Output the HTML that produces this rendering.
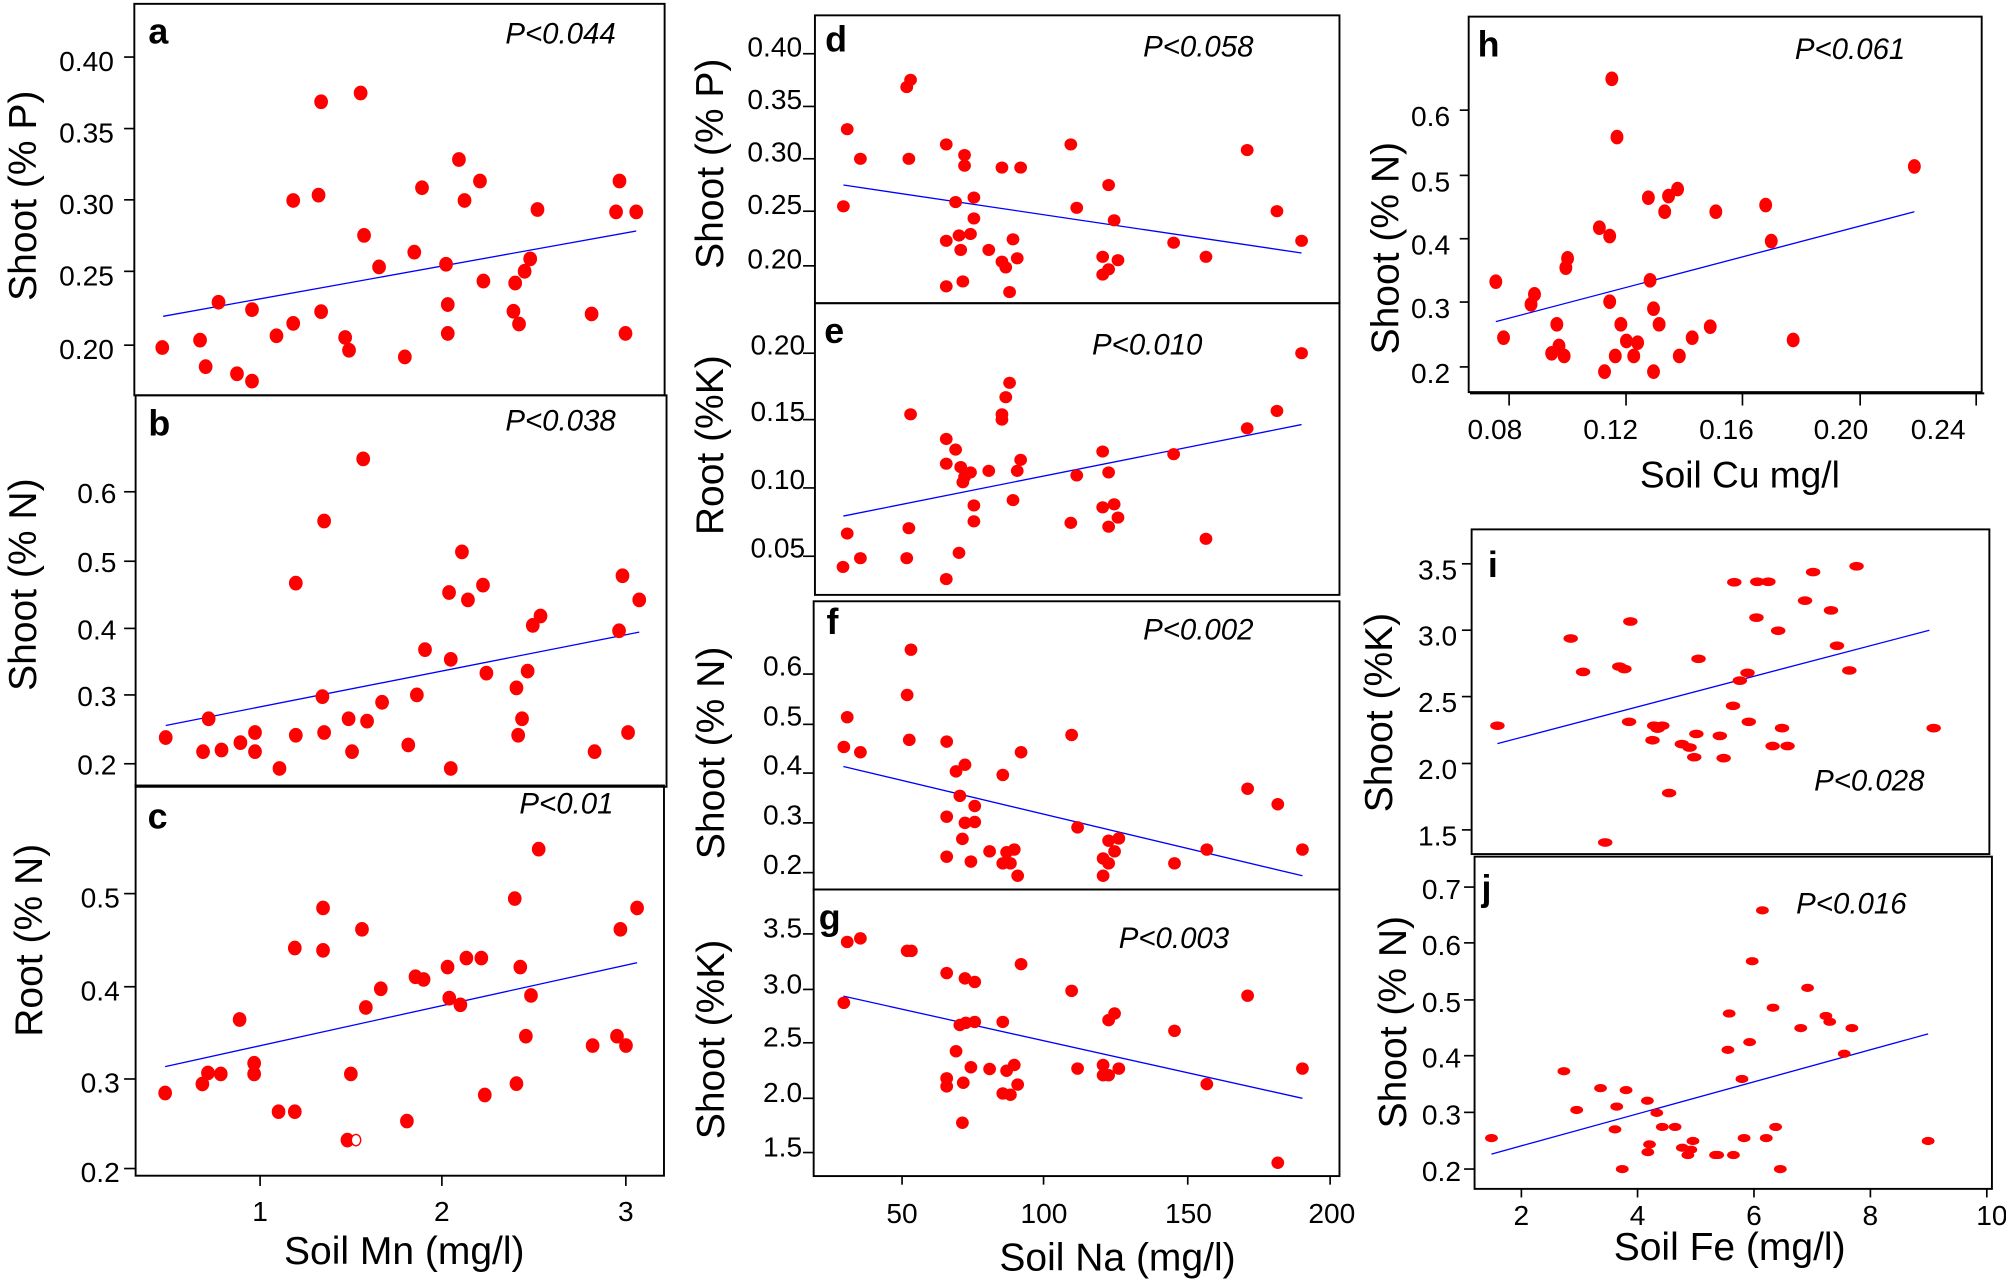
<!DOCTYPE html>
<html><head><meta charset="utf-8"><style>
html,body{margin:0;padding:0;background:#fff;}
svg{display:block;}
text{font-family:"Liberation Sans",Arial,sans-serif;fill:#000;}
.tl{font-size:22px;text-anchor:end;}
.tm{font-size:22px;text-anchor:middle;}
.yt{font-size:30.5px;text-anchor:middle;}
.xt{font-size:30.5px;text-anchor:middle;}
.lt{font-size:28px;font-weight:bold;}
.p{font-size:23px;font-style:italic;}
.fr{fill:none;stroke:#000;stroke-width:1.5;}
.tk line{stroke:#000;stroke-width:1.3;}
.rl{stroke:#0000ff;stroke-width:1.3;vector-effect:non-scaling-stroke;fill:none;}
</style></head><body>
<svg width="2006" height="1287" viewBox="0 0 1568 1006" preserveAspectRatio="none" xmlns="http://www.w3.org/2000/svg">
<rect x="0" y="0" width="1568" height="1006" fill="#fff"/>

<!-- ===== Frames ===== -->
<rect class="fr" x="105" y="3" width="414.5" height="306"/>
<rect class="fr" x="106" y="309" width="415" height="306"/>
<rect class="fr" x="106" y="614" width="413" height="305"/>
<rect class="fr" x="637" y="12" width="410" height="225"/>
<rect class="fr" x="637" y="237" width="410" height="228"/>
<rect class="fr" x="636" y="470" width="411" height="225.3"/>
<rect class="fr" x="636" y="695.3" width="411" height="224"/>
<rect class="fr" x="1148" y="13" width="401" height="293.5"/>
<line x1="1149" y1="307.5" x2="1551" y2="307.5" stroke="#000" stroke-width="1.5"/>
<rect class="fr" x="1150.3" y="413.8" width="404.7" height="253.8"/>
<rect class="fr" x="1152.6" y="669.6" width="404.4" height="259.7"/>

<!-- ===== Ticks ===== -->
<g class="tk">
<line x1="97" y1="44.6" x2="105" y2="44.6"/><line x1="97" y1="100.5" x2="105" y2="100.5"/><line x1="97" y1="156.2" x2="105" y2="156.2"/><line x1="97" y1="212.1" x2="105" y2="212.1"/><line x1="97" y1="269.8" x2="105" y2="269.8"/>
<line x1="97" y1="384.4" x2="106" y2="384.4"/><line x1="97" y1="438.7" x2="106" y2="438.7"/><line x1="97" y1="491.2" x2="106" y2="491.2"/><line x1="97" y1="543.2" x2="106" y2="543.2"/><line x1="97" y1="597" x2="106" y2="597"/>
<line x1="97" y1="698.5" x2="106" y2="698.5"/><line x1="97" y1="771.3" x2="106" y2="771.3"/><line x1="97" y1="843.4" x2="106" y2="843.4"/><line x1="97" y1="913.4" x2="106" y2="913.4"/>
<line x1="203.3" y1="919" x2="203.3" y2="927"/><line x1="345.4" y1="919" x2="345.4" y2="927"/><line x1="489.2" y1="919" x2="489.2" y2="927"/>

<line x1="627.7" y1="42" x2="637" y2="42"/><line x1="627.7" y1="83.2" x2="637" y2="83.2"/><line x1="627.7" y1="124.1" x2="637" y2="124.1"/><line x1="627.7" y1="165.1" x2="637" y2="165.1"/><line x1="627.7" y1="207.8" x2="637" y2="207.8"/>
<line x1="627.7" y1="276.1" x2="637" y2="276.1"/><line x1="627.7" y1="328" x2="637" y2="328"/><line x1="627.7" y1="381.4" x2="637" y2="381.4"/><line x1="627.7" y1="434.8" x2="637" y2="434.8"/>
<line x1="627.7" y1="526.9" x2="636" y2="526.9"/><line x1="627.7" y1="566.2" x2="636" y2="566.2"/><line x1="627.7" y1="604.3" x2="636" y2="604.3"/><line x1="627.7" y1="643.2" x2="636" y2="643.2"/><line x1="627.7" y1="682.1" x2="636" y2="682.1"/>
<line x1="627.7" y1="730" x2="636" y2="730"/><line x1="627.7" y1="773.4" x2="636" y2="773.4"/><line x1="627.7" y1="815.1" x2="636" y2="815.1"/><line x1="627.7" y1="858.5" x2="636" y2="858.5"/><line x1="627.7" y1="900.9" x2="636" y2="900.9"/>
<line x1="705.1" y1="919.3" x2="705.1" y2="926"/><line x1="815.7" y1="919.3" x2="815.7" y2="926"/><line x1="928.4" y1="919.3" x2="928.4" y2="926"/><line x1="1039.7" y1="919.3" x2="1039.7" y2="926"/>

<line x1="1141" y1="86.1" x2="1148" y2="86.1"/><line x1="1141" y1="137.1" x2="1148" y2="137.1"/><line x1="1141" y1="186.6" x2="1148" y2="186.6"/><line x1="1141" y1="236.1" x2="1148" y2="236.1"/><line x1="1141" y1="286.8" x2="1148" y2="286.8"/>
<line x1="1179.6" y1="307.5" x2="1179.6" y2="317"/><line x1="1271" y1="307.5" x2="1271" y2="317"/><line x1="1362" y1="307.5" x2="1362" y2="317"/><line x1="1454" y1="307.5" x2="1454" y2="317"/><line x1="1544.7" y1="307.5" x2="1544.7" y2="317"/>

<line x1="1142.7" y1="440.7" x2="1150.3" y2="440.7"/><line x1="1142.7" y1="492.6" x2="1150.3" y2="492.6"/><line x1="1142.7" y1="544.5" x2="1150.3" y2="544.5"/><line x1="1142.7" y1="596.8" x2="1150.3" y2="596.8"/><line x1="1142.7" y1="648.7" x2="1150.3" y2="648.7"/>
<line x1="1144.4" y1="693.4" x2="1152.6" y2="693.4"/><line x1="1144.4" y1="737" x2="1152.6" y2="737"/><line x1="1144.4" y1="781.6" x2="1152.6" y2="781.6"/><line x1="1144.4" y1="825.2" x2="1152.6" y2="825.2"/><line x1="1144.4" y1="869.5" x2="1152.6" y2="869.5"/><line x1="1144.4" y1="913.8" x2="1152.6" y2="913.8"/>
<line x1="1189.2" y1="929.3" x2="1189.2" y2="936"/><line x1="1280" y1="929.3" x2="1280" y2="936"/><line x1="1371" y1="929.3" x2="1371" y2="936"/><line x1="1462" y1="929.3" x2="1462" y2="936"/><line x1="1553" y1="929.3" x2="1553" y2="936"/>
</g>

<!-- ===== Tick labels ===== -->
<text class="tl" x="89" y="55.6">0.40</text><text class="tl" x="89" y="111.5">0.35</text><text class="tl" x="89" y="167.2">0.30</text><text class="tl" x="89" y="223.1">0.25</text><text class="tl" x="89" y="280.8">0.20</text>
<text class="tl" x="91" y="393">0.6</text><text class="tl" x="91" y="447.3">0.5</text><text class="tl" x="91" y="499.8">0.4</text><text class="tl" x="91" y="551.8">0.3</text><text class="tl" x="91" y="605.6">0.2</text>
<text class="tl" x="93.6" y="709.2">0.5</text><text class="tl" x="93.6" y="782">0.4</text><text class="tl" x="93.6" y="854.1">0.3</text><text class="tl" x="93.6" y="924.1">0.2</text>
<text class="tm" x="203.3" y="954.5">1</text><text class="tm" x="345.4" y="954.5">2</text><text class="tm" x="489.2" y="954.5">3</text>

<text class="tl" x="627" y="44">0.40</text><text class="tl" x="627" y="85.2">0.35</text><text class="tl" x="627" y="126.1">0.30</text><text class="tl" x="627" y="167.1">0.25</text><text class="tl" x="627" y="209.8">0.20</text>
<text class="tl" x="629.4" y="277">0.20</text><text class="tl" x="629.4" y="329">0.15</text><text class="tl" x="629.4" y="382.4">0.10</text><text class="tl" x="629.4" y="435.8">0.05</text>
<text class="tl" x="627" y="528">0.6</text><text class="tl" x="627" y="567.3">0.5</text><text class="tl" x="627" y="605.4">0.4</text><text class="tl" x="627" y="644.3">0.3</text><text class="tl" x="627" y="683.2">0.2</text>
<text class="tl" x="627" y="733">3.5</text><text class="tl" x="627" y="776.4">3.0</text><text class="tl" x="627" y="818.1">2.5</text><text class="tl" x="627" y="861.5">2.0</text><text class="tl" x="627" y="903.9">1.5</text>
<text class="tm" x="705.1" y="956">50</text><text class="tm" x="816" y="956">100</text><text class="tm" x="929" y="956">150</text><text class="tm" x="1041" y="956">200</text>

<text class="tl" x="1133.5" y="98.6">0.6</text><text class="tl" x="1133.5" y="149.6">0.5</text><text class="tl" x="1133.5" y="199.1">0.4</text><text class="tl" x="1133.5" y="248.6">0.3</text><text class="tl" x="1133.5" y="299.3">0.2</text>
<text class="tm" x="1168.5" y="343">0.08</text><text class="tm" x="1259" y="343">0.12</text><text class="tm" x="1349.5" y="343">0.16</text><text class="tm" x="1439" y="343">0.20</text><text class="tm" x="1515" y="343">0.24</text>

<text class="tl" x="1139" y="452.8">3.5</text><text class="tl" x="1139" y="504.7">3.0</text><text class="tl" x="1139" y="556.6">2.5</text><text class="tl" x="1139" y="608.9">2.0</text><text class="tl" x="1139" y="660.8">1.5</text>
<text class="tl" x="1142" y="702.8">0.7</text><text class="tl" x="1142" y="746.4">0.6</text><text class="tl" x="1142" y="791">0.5</text><text class="tl" x="1142" y="834.6">0.4</text><text class="tl" x="1142" y="878.9">0.3</text><text class="tl" x="1142" y="923.2">0.2</text>
<text class="tm" x="1189.2" y="957.5">2</text><text class="tm" x="1280" y="957.5">4</text><text class="tm" x="1371" y="957.5">6</text><text class="tm" x="1462" y="957.5">8</text><text class="tm" x="1557" y="957.5">10</text>

<!-- ===== Axis titles ===== -->
<text class="yt" transform="translate(28,153) rotate(-90)">Shoot (% P)</text>
<text class="yt" transform="translate(28,457) rotate(-90)">Shoot (% N)</text>
<text class="yt" transform="translate(33,735) rotate(-90)">Root (% N)</text>
<text class="yt" transform="translate(565,128) rotate(-90)">Shoot (% P)</text>
<text class="yt" transform="translate(565,348) rotate(-90)">Root (%K)</text>
<text class="yt" transform="translate(566,588.5) rotate(-90)">Shoot (% N)</text>
<text class="yt" transform="translate(566,812.5) rotate(-90)">Shoot (%K)</text>
<text class="yt" transform="translate(1093,194) rotate(-90)">Shoot (% N)</text>
<text class="yt" transform="translate(1088,557) rotate(-90)">Shoot (%K)</text>
<text class="yt" transform="translate(1099,799) rotate(-90)">Shoot (% N)</text>

<text class="xt" x="316" y="988">Soil Mn (mg/l)</text>
<text class="xt" x="873.5" y="993">Soil Na (mg/l)</text>
<text class="xt" x="1360" y="381" style="font-size:29px">Soil Cu mg/l</text>
<text class="xt" x="1352" y="985">Soil Fe (mg/l)</text>

<!-- ===== Panel letters & P values ===== -->
<text class="lt" x="116" y="34">a</text>
<text class="lt" x="116" y="340.3">b</text>
<text class="lt" x="115.4" y="647.6">c</text>
<text class="lt" x="645" y="40.2">d</text>
<text class="lt" x="644.3" y="268">e</text>
<text class="lt" x="646" y="495.7">f</text>
<text class="lt" x="640" y="726.6">g</text>
<text class="lt" x="1155" y="44">h</text>
<text class="lt" x="1163" y="451">i</text>
<text class="lt" x="1158" y="704">j</text>

<text class="p" x="395" y="34">P&lt;0.044</text>
<text class="p" x="395" y="336.4">P&lt;0.038</text>
<text class="p" x="406" y="636">P&lt;0.01</text>
<text class="p" x="893.5" y="44">P&lt;0.058</text>
<text class="p" x="853.6" y="277">P&lt;0.010</text>
<text class="p" x="893.5" y="499.8">P&lt;0.002</text>
<text class="p" x="874.5" y="741">P&lt;0.003</text>
<text class="p" x="1403" y="46">P&lt;0.061</text>
<text class="p" x="1418" y="618">P&lt;0.028</text>
<text class="p" x="1404" y="714">P&lt;0.016</text>

<!-- ===== Panel a ===== -->
<g transform="matrix(0.33557 0 0 0.26247 0 0)" fill="#ff0000">
<line class="rl" x1="380" y1="942" x2="1482" y2="688"/>
<ellipse cx="378" cy="1035" rx="16" ry="22"/><ellipse cx="466" cy="1013" rx="16" ry="22"/><ellipse cx="479" cy="1092" rx="16" ry="22"/><ellipse cx="509" cy="900" rx="16" ry="22"/><ellipse cx="552" cy="1113" rx="16" ry="22"/><ellipse cx="587" cy="1135" rx="16" ry="22"/><ellipse cx="587" cy="922" rx="16" ry="22"/><ellipse cx="644" cy="1000" rx="16" ry="22"/><ellipse cx="683" cy="963" rx="16" ry="22"/><ellipse cx="683" cy="597" rx="16" ry="22"/><ellipse cx="742" cy="581" rx="16" ry="22"/><ellipse cx="748" cy="303" rx="16" ry="22"/><ellipse cx="748" cy="928" rx="16" ry="22"/><ellipse cx="804" cy="1005" rx="16" ry="22"/><ellipse cx="813" cy="1043" rx="16" ry="22"/><ellipse cx="840" cy="277" rx="16" ry="22"/><ellipse cx="848" cy="701" rx="16" ry="22"/><ellipse cx="883" cy="795" rx="16" ry="22"/><ellipse cx="943" cy="1063" rx="16" ry="22"/><ellipse cx="965" cy="751" rx="16" ry="22"/><ellipse cx="983" cy="559" rx="16" ry="22"/><ellipse cx="1039" cy="787" rx="16" ry="22"/><ellipse cx="1043" cy="907" rx="16" ry="22"/><ellipse cx="1043" cy="993" rx="16" ry="22"/><ellipse cx="1069" cy="475" rx="16" ry="22"/><ellipse cx="1082" cy="597" rx="16" ry="22"/><ellipse cx="1118" cy="539" rx="16" ry="22"/><ellipse cx="1126" cy="837" rx="16" ry="22"/><ellipse cx="1196" cy="927" rx="16" ry="22"/><ellipse cx="1200" cy="843" rx="16" ry="22"/><ellipse cx="1209" cy="965" rx="16" ry="22"/><ellipse cx="1222" cy="808" rx="16" ry="22"/><ellipse cx="1235" cy="771" rx="16" ry="22"/><ellipse cx="1252" cy="624" rx="16" ry="22"/><ellipse cx="1378" cy="935" rx="16" ry="22"/><ellipse cx="1435" cy="631" rx="16" ry="22"/><ellipse cx="1443" cy="539" rx="16" ry="22"/><ellipse cx="1457" cy="993" rx="16" ry="22"/><ellipse cx="1482" cy="631" rx="16" ry="22"/>
</g>

<!-- ===== Panel b ===== -->
<g transform="matrix(0.33557 0 0 0.26247 0 297)" fill="#ff0000">
<line class="rl" x1="386" y1="1029" x2="1489" y2="751"/>
<ellipse cx="386" cy="1065" rx="16" ry="22"/><ellipse cx="473" cy="1107" rx="16" ry="22"/><ellipse cx="486" cy="1009" rx="16" ry="22"/><ellipse cx="516" cy="1102" rx="16" ry="22"/><ellipse cx="560" cy="1080" rx="16" ry="22"/><ellipse cx="594" cy="1050" rx="16" ry="22"/><ellipse cx="594" cy="1107" rx="16" ry="22"/><ellipse cx="651" cy="1157" rx="16" ry="22"/><ellipse cx="689" cy="1058" rx="16" ry="22"/><ellipse cx="689" cy="605" rx="16" ry="22"/><ellipse cx="751" cy="943" rx="16" ry="22"/><ellipse cx="755" cy="420" rx="16" ry="22"/><ellipse cx="755" cy="1050" rx="16" ry="22"/><ellipse cx="812" cy="1009" rx="16" ry="22"/><ellipse cx="820" cy="1107" rx="16" ry="22"/><ellipse cx="846" cy="235" rx="16" ry="22"/><ellipse cx="855" cy="1016" rx="16" ry="22"/><ellipse cx="890" cy="960" rx="16" ry="22"/><ellipse cx="951" cy="1087" rx="16" ry="22"/><ellipse cx="971" cy="938" rx="16" ry="22"/><ellipse cx="990" cy="803" rx="16" ry="22"/><ellipse cx="1046" cy="633" rx="16" ry="22"/><ellipse cx="1050" cy="832" rx="16" ry="22"/><ellipse cx="1050" cy="1157" rx="16" ry="22"/><ellipse cx="1076" cy="512" rx="16" ry="22"/><ellipse cx="1090" cy="655" rx="16" ry="22"/><ellipse cx="1125" cy="611" rx="16" ry="22"/><ellipse cx="1133" cy="873" rx="16" ry="22"/><ellipse cx="1203" cy="917" rx="16" ry="22"/><ellipse cx="1207" cy="1058" rx="16" ry="22"/><ellipse cx="1216" cy="1009" rx="16" ry="22"/><ellipse cx="1229" cy="867" rx="16" ry="22"/><ellipse cx="1241" cy="731" rx="16" ry="22"/><ellipse cx="1259" cy="703" rx="16" ry="22"/><ellipse cx="1385" cy="1107" rx="16" ry="22"/><ellipse cx="1442" cy="747" rx="16" ry="22"/><ellipse cx="1450" cy="583" rx="16" ry="22"/><ellipse cx="1463" cy="1050" rx="16" ry="22"/><ellipse cx="1489" cy="655" rx="16" ry="22"/>
</g>

<!-- ===== Panel c ===== -->
<g transform="matrix(0.33445 0 0 0.2611 0 609.7)" fill="#ff0000">
<line class="rl" x1="386" y1="858" x2="1489" y2="547"/>
<ellipse cx="386" cy="937" rx="16" ry="22"/><ellipse cx="473" cy="910" rx="16" ry="22"/><ellipse cx="486" cy="877" rx="16" ry="22"/><ellipse cx="516" cy="880" rx="16" ry="22"/><ellipse cx="560" cy="717" rx="16" ry="22"/><ellipse cx="594" cy="848" rx="16" ry="22"/><ellipse cx="594" cy="880" rx="16" ry="22"/><ellipse cx="651" cy="993" rx="16" ry="22"/><ellipse cx="689" cy="993" rx="16" ry="22"/><ellipse cx="689" cy="503" rx="16" ry="22"/><ellipse cx="755" cy="383" rx="16" ry="22"/><ellipse cx="755" cy="510" rx="16" ry="22"/><ellipse cx="812" cy="1078" rx="16" ry="22"/><ellipse cx="820" cy="880" rx="16" ry="22"/><ellipse cx="846" cy="447" rx="16" ry="22"/><ellipse cx="855" cy="681" rx="16" ry="22"/><ellipse cx="890" cy="625" rx="16" ry="22"/><ellipse cx="951" cy="1021" rx="16" ry="22"/><ellipse cx="971" cy="589" rx="16" ry="22"/><ellipse cx="990" cy="597" rx="16" ry="22"/><ellipse cx="1046" cy="560" rx="16" ry="22"/><ellipse cx="1050" cy="653" rx="16" ry="22"/><ellipse cx="1076" cy="673" rx="16" ry="22"/><ellipse cx="1090" cy="533" rx="16" ry="22"/><ellipse cx="1125" cy="533" rx="16" ry="22"/><ellipse cx="1133" cy="943" rx="16" ry="22"/><ellipse cx="1203" cy="355" rx="16" ry="22"/><ellipse cx="1207" cy="909" rx="16" ry="22"/><ellipse cx="1216" cy="560" rx="16" ry="22"/><ellipse cx="1229" cy="767" rx="16" ry="22"/><ellipse cx="1241" cy="645" rx="16" ry="22"/><ellipse cx="1259" cy="207" rx="16" ry="22"/><ellipse cx="1385" cy="795" rx="16" ry="22"/><ellipse cx="1442" cy="767" rx="16" ry="22"/><ellipse cx="1450" cy="447" rx="16" ry="22"/><ellipse cx="1463" cy="795" rx="16" ry="22"/><ellipse cx="1489" cy="383" rx="16" ry="22"/>
<ellipse cx="832" cy="1078" rx="11" ry="17" fill="#fff" stroke="#ff0000" stroke-width="1.4" vector-effect="non-scaling-stroke"/>
</g>

<!-- ===== Panels d & e ===== -->
<g transform="matrix(0.33223 0 0 0.29674 533 1)" fill="#ff0000">
<line class="rl" x1="380" y1="484" x2="1458" y2="663"/>
<ellipse cx="380" cy="540" rx="15" ry="16"/><ellipse cx="389" cy="337" rx="15" ry="16"/><ellipse cx="420" cy="415" rx="15" ry="16"/><ellipse cx="529" cy="226" rx="15" ry="16"/><ellipse cx="538" cy="207" rx="15" ry="16"/><ellipse cx="534" cy="415" rx="15" ry="16"/><ellipse cx="622" cy="377" rx="15" ry="16"/><ellipse cx="622" cy="631" rx="15" ry="16"/><ellipse cx="622" cy="751" rx="15" ry="16"/><ellipse cx="644" cy="529" rx="15" ry="16"/><ellipse cx="652" cy="617" rx="15" ry="16"/><ellipse cx="656" cy="655" rx="15" ry="16"/><ellipse cx="661" cy="738" rx="15" ry="16"/><ellipse cx="665" cy="405" rx="15" ry="16"/><ellipse cx="665" cy="433" rx="15" ry="16"/><ellipse cx="679" cy="613" rx="15" ry="16"/><ellipse cx="687" cy="517" rx="15" ry="16"/><ellipse cx="687" cy="572" rx="15" ry="16"/><ellipse cx="722" cy="655" rx="15" ry="16"/><ellipse cx="753" cy="438" rx="15" ry="16"/><ellipse cx="753" cy="686" rx="15" ry="16"/><ellipse cx="762" cy="701" rx="15" ry="16"/><ellipse cx="771" cy="766" rx="15" ry="16"/><ellipse cx="779" cy="627" rx="15" ry="16"/><ellipse cx="789" cy="677" rx="15" ry="16"/><ellipse cx="797" cy="438" rx="15" ry="16"/><ellipse cx="915" cy="377" rx="15" ry="16"/><ellipse cx="929" cy="544" rx="15" ry="16"/><ellipse cx="990" cy="673" rx="15" ry="16"/><ellipse cx="990" cy="720" rx="15" ry="16"/><ellipse cx="1004" cy="484" rx="15" ry="16"/><ellipse cx="1004" cy="706" rx="15" ry="16"/><ellipse cx="1017" cy="577" rx="15" ry="16"/><ellipse cx="1026" cy="682" rx="15" ry="16"/><ellipse cx="1157" cy="636" rx="15" ry="16"/><ellipse cx="1233" cy="673" rx="15" ry="16"/><ellipse cx="1330" cy="392" rx="15" ry="16"/><ellipse cx="1400" cy="553" rx="15" ry="16"/><ellipse cx="1458" cy="631" rx="15" ry="16"/>
<line class="rl" x1="380" y1="1356" x2="1458" y2="1115"/>
<ellipse cx="379" cy="1490" rx="15" ry="16"/><ellipse cx="389" cy="1402" rx="15" ry="16"/><ellipse cx="420" cy="1467" rx="15" ry="16"/><ellipse cx="529" cy="1467" rx="15" ry="16"/><ellipse cx="534" cy="1388" rx="15" ry="16"/><ellipse cx="538" cy="1088" rx="15" ry="16"/><ellipse cx="622" cy="1153" rx="15" ry="16"/><ellipse cx="622" cy="1218" rx="15" ry="16"/><ellipse cx="622" cy="1522" rx="15" ry="16"/><ellipse cx="644" cy="1181" rx="15" ry="16"/><ellipse cx="652" cy="1453" rx="15" ry="16"/><ellipse cx="656" cy="1227" rx="15" ry="16"/><ellipse cx="661" cy="1267" rx="15" ry="16"/><ellipse cx="665" cy="1253" rx="15" ry="16"/><ellipse cx="679" cy="1241" rx="15" ry="16"/><ellipse cx="687" cy="1328" rx="15" ry="16"/><ellipse cx="687" cy="1370" rx="15" ry="16"/><ellipse cx="722" cy="1237" rx="15" ry="16"/><ellipse cx="753" cy="1088" rx="15" ry="16"/><ellipse cx="753" cy="1102" rx="15" ry="16"/><ellipse cx="762" cy="1043" rx="15" ry="16"/><ellipse cx="771" cy="1005" rx="15" ry="16"/><ellipse cx="779" cy="1314" rx="15" ry="16"/><ellipse cx="789" cy="1237" rx="15" ry="16"/><ellipse cx="797" cy="1208" rx="15" ry="16"/><ellipse cx="915" cy="1374" rx="15" ry="16"/><ellipse cx="929" cy="1249" rx="15" ry="16"/><ellipse cx="990" cy="1186" rx="15" ry="16"/><ellipse cx="990" cy="1333" rx="15" ry="16"/><ellipse cx="1004" cy="1241" rx="15" ry="16"/><ellipse cx="1004" cy="1384" rx="15" ry="16"/><ellipse cx="1017" cy="1325" rx="15" ry="16"/><ellipse cx="1026" cy="1360" rx="15" ry="16"/><ellipse cx="1157" cy="1193" rx="15" ry="16"/><ellipse cx="1233" cy="1416" rx="15" ry="16"/><ellipse cx="1330" cy="1125" rx="15" ry="16"/><ellipse cx="1400" cy="1079" rx="15" ry="16"/><ellipse cx="1458" cy="927" rx="15" ry="16"/>
</g>

<!-- ===== Panels f & g ===== -->
<g transform="matrix(0.33223 0 0 0.34722 533 454)" fill="#ff0000">
<line class="rl" x1="380" y1="418" x2="1460" y2="664"/>
<ellipse cx="381" cy="374" rx="15" ry="14"/><ellipse cx="389" cy="307" rx="15" ry="14"/><ellipse cx="420" cy="386" rx="15" ry="14"/><ellipse cx="530" cy="257" rx="15" ry="14"/><ellipse cx="535" cy="358" rx="15" ry="14"/><ellipse cx="539" cy="155" rx="15" ry="14"/><ellipse cx="623" cy="362" rx="15" ry="14"/><ellipse cx="623" cy="531" rx="15" ry="14"/><ellipse cx="623" cy="621" rx="15" ry="14"/><ellipse cx="645" cy="429" rx="15" ry="14"/><ellipse cx="654" cy="484" rx="15" ry="14"/><ellipse cx="660" cy="581" rx="15" ry="14"/><ellipse cx="666" cy="414" rx="15" ry="14"/><ellipse cx="666" cy="545" rx="15" ry="14"/><ellipse cx="680" cy="632" rx="15" ry="14"/><ellipse cx="689" cy="507" rx="15" ry="14"/><ellipse cx="689" cy="543" rx="15" ry="14"/><ellipse cx="724" cy="609" rx="15" ry="14"/><ellipse cx="755" cy="437" rx="15" ry="14"/><ellipse cx="755" cy="636" rx="15" ry="14"/><ellipse cx="764" cy="611" rx="15" ry="14"/><ellipse cx="773" cy="636" rx="15" ry="14"/><ellipse cx="782" cy="605" rx="15" ry="14"/><ellipse cx="790" cy="664" rx="15" ry="14"/><ellipse cx="798" cy="386" rx="15" ry="14"/><ellipse cx="917" cy="347" rx="15" ry="14"/><ellipse cx="931" cy="555" rx="15" ry="14"/><ellipse cx="991" cy="625" rx="15" ry="14"/><ellipse cx="991" cy="664" rx="15" ry="14"/><ellipse cx="1004" cy="585" rx="15" ry="14"/><ellipse cx="1004" cy="636" rx="15" ry="14"/><ellipse cx="1018" cy="609" rx="15" ry="14"/><ellipse cx="1028" cy="580" rx="15" ry="14"/><ellipse cx="1159" cy="636" rx="15" ry="14"/><ellipse cx="1235" cy="605" rx="15" ry="14"/><ellipse cx="1331" cy="468" rx="15" ry="14"/><ellipse cx="1402" cy="503" rx="15" ry="14"/><ellipse cx="1460" cy="605" rx="15" ry="14"/>
<line class="rl" x1="380" y1="935" x2="1460" y2="1165"/>
<ellipse cx="381" cy="950" rx="15" ry="14"/><ellipse cx="389" cy="813" rx="15" ry="14"/><ellipse cx="420" cy="805" rx="15" ry="14"/><ellipse cx="530" cy="833" rx="15" ry="14"/><ellipse cx="540" cy="833" rx="15" ry="14"/><ellipse cx="623" cy="883" rx="15" ry="14"/><ellipse cx="623" cy="1120" rx="15" ry="14"/><ellipse cx="623" cy="1138" rx="15" ry="14"/><ellipse cx="645" cy="1059" rx="15" ry="14"/><ellipse cx="654" cy="1000" rx="15" ry="14"/><ellipse cx="660" cy="1220" rx="15" ry="14"/><ellipse cx="662" cy="1130" rx="15" ry="14"/><ellipse cx="666" cy="895" rx="15" ry="14"/><ellipse cx="668" cy="995" rx="15" ry="14"/><ellipse cx="680" cy="1095" rx="15" ry="14"/><ellipse cx="689" cy="903" rx="15" ry="14"/><ellipse cx="689" cy="993" rx="15" ry="14"/><ellipse cx="724" cy="1099" rx="15" ry="14"/><ellipse cx="755" cy="993" rx="15" ry="14"/><ellipse cx="755" cy="1154" rx="15" ry="14"/><ellipse cx="764" cy="1103" rx="15" ry="14"/><ellipse cx="773" cy="1157" rx="15" ry="14"/><ellipse cx="782" cy="1090" rx="15" ry="14"/><ellipse cx="790" cy="1134" rx="15" ry="14"/><ellipse cx="798" cy="863" rx="15" ry="14"/><ellipse cx="917" cy="923" rx="15" ry="14"/><ellipse cx="931" cy="1098" rx="15" ry="14"/><ellipse cx="991" cy="1090" rx="15" ry="14"/><ellipse cx="991" cy="1113" rx="15" ry="14"/><ellipse cx="1004" cy="989" rx="15" ry="14"/><ellipse cx="1004" cy="1113" rx="15" ry="14"/><ellipse cx="1018" cy="974" rx="15" ry="14"/><ellipse cx="1028" cy="1098" rx="15" ry="14"/><ellipse cx="1159" cy="1013" rx="15" ry="14"/><ellipse cx="1235" cy="1133" rx="15" ry="14"/><ellipse cx="1331" cy="934" rx="15" ry="14"/><ellipse cx="1402" cy="1310" rx="15" ry="14"/><ellipse cx="1460" cy="1098" rx="15" ry="14"/>
</g>

<!-- ===== Panel h ===== -->
<g transform="matrix(0.3359 0 0 0.26042 1041.9 -3)" fill="#ff0000">
<line class="rl" x1="379" y1="977" x2="1353" y2="647"/>
<ellipse cx="379" cy="857" rx="15" ry="22"/><ellipse cx="397" cy="1025" rx="15" ry="22"/><ellipse cx="461" cy="925" rx="15" ry="22"/><ellipse cx="469" cy="895" rx="15" ry="22"/><ellipse cx="509" cy="1072" rx="15" ry="22"/><ellipse cx="521" cy="985" rx="15" ry="22"/><ellipse cx="526" cy="1050" rx="15" ry="22"/><ellipse cx="538" cy="1080" rx="15" ry="22"/><ellipse cx="542" cy="815" rx="15" ry="22"/><ellipse cx="546" cy="787" rx="15" ry="22"/><ellipse cx="620" cy="695" rx="15" ry="22"/><ellipse cx="632" cy="1127" rx="15" ry="22"/><ellipse cx="644" cy="720" rx="15" ry="22"/><ellipse cx="644" cy="917" rx="15" ry="22"/><ellipse cx="649" cy="248" rx="15" ry="22"/><ellipse cx="657" cy="1080" rx="15" ry="22"/><ellipse cx="661" cy="423" rx="15" ry="22"/><ellipse cx="670" cy="985" rx="15" ry="22"/><ellipse cx="683" cy="1035" rx="15" ry="22"/><ellipse cx="700" cy="1080" rx="15" ry="22"/><ellipse cx="709" cy="1040" rx="15" ry="22"/><ellipse cx="734" cy="605" rx="15" ry="22"/><ellipse cx="738" cy="853" rx="15" ry="22"/><ellipse cx="746" cy="938" rx="15" ry="22"/><ellipse cx="746" cy="1127" rx="15" ry="22"/><ellipse cx="759" cy="985" rx="15" ry="22"/><ellipse cx="772" cy="647" rx="15" ry="22"/><ellipse cx="781" cy="600" rx="15" ry="22"/><ellipse cx="802" cy="579" rx="15" ry="22"/><ellipse cx="806" cy="1080" rx="15" ry="22"/><ellipse cx="836" cy="1025" rx="15" ry="22"/><ellipse cx="878" cy="992" rx="15" ry="22"/><ellipse cx="891" cy="647" rx="15" ry="22"/><ellipse cx="1007" cy="627" rx="15" ry="22"/><ellipse cx="1020" cy="735" rx="15" ry="22"/><ellipse cx="1071" cy="1032" rx="15" ry="22"/><ellipse cx="1353" cy="511" rx="15" ry="22"/>
</g>

<!-- ===== Panels i & j ===== -->
<g transform="matrix(0.3330 0 0 0.37879 1042.6 405.5)" fill="#ff0000">
<line class="rl" x1="384" y1="464" x2="1398" y2="230"/>
<ellipse cx="384" cy="427" rx="17" ry="9"/><ellipse cx="556" cy="247" rx="17" ry="9"/><ellipse cx="585" cy="316" rx="17" ry="9"/><ellipse cx="670" cy="305" rx="17" ry="9"/><ellipse cx="682" cy="310" rx="17" ry="9"/><ellipse cx="696" cy="212" rx="17" ry="9"/><ellipse cx="693" cy="419" rx="17" ry="9"/><ellipse cx="748" cy="457" rx="17" ry="9"/><ellipse cx="752" cy="427" rx="17" ry="9"/><ellipse cx="760" cy="433" rx="17" ry="9"/><ellipse cx="771" cy="427" rx="17" ry="9"/><ellipse cx="787" cy="566" rx="17" ry="9"/><ellipse cx="817" cy="465" rx="17" ry="9"/><ellipse cx="835" cy="472" rx="17" ry="9"/><ellipse cx="846" cy="492" rx="17" ry="9"/><ellipse cx="851" cy="444" rx="17" ry="9"/><ellipse cx="856" cy="289" rx="17" ry="9"/><ellipse cx="906" cy="448" rx="17" ry="9"/><ellipse cx="915" cy="494" rx="17" ry="9"/><ellipse cx="937" cy="386" rx="17" ry="9"/><ellipse cx="940" cy="131" rx="17" ry="9"/><ellipse cx="953" cy="334" rx="17" ry="9"/><ellipse cx="971" cy="318" rx="17" ry="9"/><ellipse cx="974" cy="419" rx="17" ry="9"/><ellipse cx="992" cy="204" rx="17" ry="9"/><ellipse cx="994" cy="130" rx="17" ry="9"/><ellipse cx="1020" cy="130" rx="17" ry="9"/><ellipse cx="1030" cy="469" rx="17" ry="9"/><ellipse cx="1043" cy="231" rx="17" ry="9"/><ellipse cx="1052" cy="432" rx="17" ry="9"/><ellipse cx="1065" cy="469" rx="17" ry="9"/><ellipse cx="1106" cy="169" rx="17" ry="9"/><ellipse cx="1125" cy="110" rx="17" ry="9"/><ellipse cx="1167" cy="189" rx="17" ry="9"/><ellipse cx="1181" cy="262" rx="17" ry="9"/><ellipse cx="1210" cy="313" rx="17" ry="9"/><ellipse cx="1227" cy="98" rx="17" ry="9"/><ellipse cx="1408" cy="432" rx="17" ry="9"/><ellipse cx="637" cy="668" rx="17" ry="9"/>
<line class="rl" x1="370" y1="1311" x2="1395" y2="1063"/>
<ellipse cx="370" cy="1278" rx="15" ry="8.5"/><ellipse cx="540" cy="1140" rx="15" ry="8.5"/><ellipse cx="570" cy="1220" rx="15" ry="8.5"/><ellipse cx="626" cy="1175" rx="15" ry="8.5"/><ellipse cx="660" cy="1260" rx="15" ry="8.5"/><ellipse cx="664" cy="1213" rx="15" ry="8.5"/><ellipse cx="677" cy="1342" rx="15" ry="8.5"/><ellipse cx="686" cy="1179" rx="15" ry="8.5"/><ellipse cx="736" cy="1201" rx="15" ry="8.5"/><ellipse cx="737" cy="1307" rx="15" ry="8.5"/><ellipse cx="741" cy="1291" rx="15" ry="8.5"/><ellipse cx="758" cy="1226" rx="15" ry="8.5"/><ellipse cx="771" cy="1255" rx="15" ry="8.5"/><ellipse cx="801" cy="1255" rx="15" ry="8.5"/><ellipse cx="818" cy="1298" rx="15" ry="8.5"/><ellipse cx="831" cy="1313" rx="15" ry="8.5"/><ellipse cx="838" cy="1302" rx="15" ry="8.5"/><ellipse cx="843" cy="1284" rx="15" ry="8.5"/><ellipse cx="896" cy="1313" rx="15" ry="8.5"/><ellipse cx="901" cy="1313" rx="15" ry="8.5"/><ellipse cx="928" cy="1021" rx="15" ry="8.5"/><ellipse cx="925" cy="1096" rx="15" ry="8.5"/><ellipse cx="938" cy="1313" rx="15" ry="8.5"/><ellipse cx="958" cy="1156" rx="15" ry="8.5"/><ellipse cx="963" cy="1278" rx="15" ry="8.5"/><ellipse cx="976" cy="1080" rx="15" ry="8.5"/><ellipse cx="982" cy="913" rx="15" ry="8.5"/><ellipse cx="1006" cy="808" rx="15" ry="8.5"/><ellipse cx="1015" cy="1278" rx="15" ry="8.5"/><ellipse cx="1031" cy="1009" rx="15" ry="8.5"/><ellipse cx="1037" cy="1255" rx="15" ry="8.5"/><ellipse cx="1048" cy="1342" rx="15" ry="8.5"/><ellipse cx="1096" cy="1051" rx="15" ry="8.5"/><ellipse cx="1112" cy="968" rx="15" ry="8.5"/><ellipse cx="1155" cy="1026" rx="15" ry="8.5"/><ellipse cx="1164" cy="1038" rx="15" ry="8.5"/><ellipse cx="1198" cy="1104" rx="15" ry="8.5"/><ellipse cx="1216" cy="1051" rx="15" ry="8.5"/><ellipse cx="1395" cy="1284" rx="15" ry="8.5"/>
</g>
</svg>
</body></html>
